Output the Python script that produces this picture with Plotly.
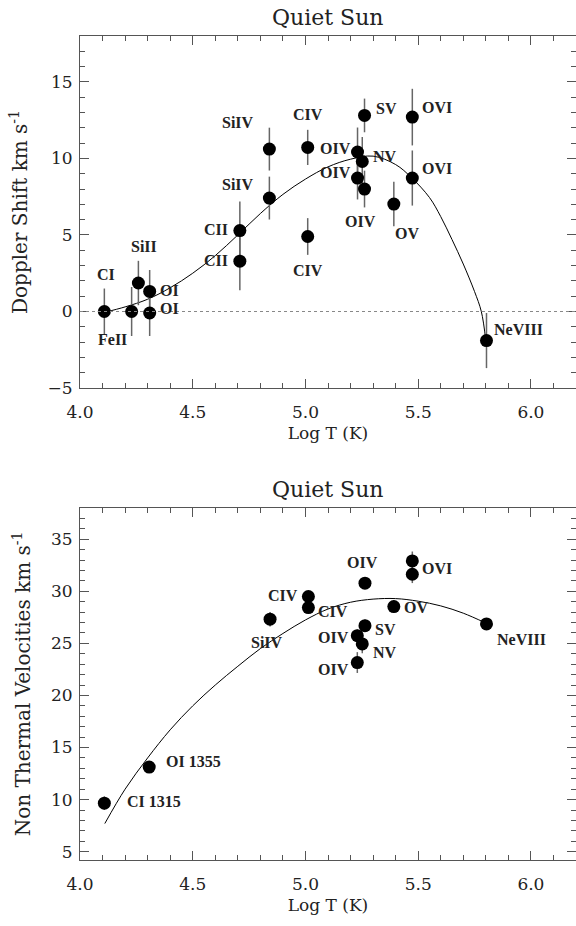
import plotly.graph_objects as go

# ---------------- Top panel: Doppler shift ----------------
dop_ions = ["CI", "FeII", "SiII", "OI", "OI", "CII", "CII", "SiIV", "SiIV", "CIV", "CIV",
            "OIV", "OIV", "NV", "OIV", "SV", "OV", "OVI", "OVI", "NeVIII"]
dop_logt = [4.108, 4.229, 4.259, 4.309, 4.309, 4.709, 4.709, 4.840, 4.840, 5.010, 5.010,
            5.231, 5.231, 5.252, 5.262, 5.262, 5.392, 5.474, 5.474, 5.803]
dop_vel = [0.0, 0.0, 1.86, 1.31, -0.10, 5.29, 3.29, 10.61, 7.41, 10.72, 4.90,
           10.42, 8.72, 9.80, 8.00, 12.81, 7.02, 12.70, 8.72, -1.90]
dop_err = [1.5, 1.6, 1.45, 1.4, 1.5, 1.9, 1.9, 1.4, 1.4, 1.15, 1.2,
           1.6, 1.4, 1.6, 1.2, 1.1, 1.45, 1.85, 1.8, 1.8]

dop_fit_x = [4.11, 4.20, 4.30, 4.40, 4.50, 4.60, 4.70, 4.80, 4.90, 5.00, 5.10, 5.20,
             5.30, 5.40, 5.47, 5.55, 5.60, 5.65, 5.70, 5.75, 5.78, 5.80]
dop_fit_y = [-0.05, 0.3, 0.8, 1.55, 2.5, 3.65, 5.0, 6.4, 7.65, 8.65, 9.45, 9.95,
             10.15, 9.6, 8.75, 7.45, 6.2, 4.7, 3.1, 1.3, 0.0, -1.9]

dop_lab_text = ["CI", "SiII", "OI", "OI", "FeII", "CII", "CII", "SiIV", "SiIV", "CIV", "CIV",
                "OIV", "OIV", "NV", "OIV", "SV", "OV", "OVI", "OVI", "NeVIII"]
dop_lab_x = [4.115, 4.284, 4.399, 4.399, 4.142, 4.602, 4.602, 4.702, 4.702, 5.012, 5.012,
             5.134, 5.134, 5.353, 5.245, 5.360, 5.449, 5.584, 5.584, 5.944]
dop_lab_y = [2.40, 4.25, 1.37, 0.18, -1.85, 5.34, 3.33, 12.35, 8.33, 12.86, 2.68,
             10.68, 9.08, 10.13, 5.88, 13.29, 5.08, 13.36, 9.37, -1.20]

# ---------------- Bottom panel: non-thermal velocities ----------------
nt_ions = ["CI", "OI", "SiIV", "CIV", "CIV", "OIV", "OIV", "NV", "SV", "OIV",
           "OV", "OVI", "OVI", "NeVIII"]
nt_logt = [4.108, 4.307, 4.843, 5.013, 5.013, 5.230, 5.230, 5.252, 5.264, 5.264,
           5.392, 5.474, 5.474, 5.803]
nt_vel = [9.66, 13.12, 27.32, 29.50, 28.44, 25.74, 23.16, 24.95, 26.70, 30.78,
          28.53, 32.92, 31.64, 26.87]
nt_err = [0.65, 0.5, 0.7, 0.5, 0.5, 0.6, 1.0, 0.9, 0.6, 0.5,
          0.6, 0.9, 0.85, 0.5]

nt_fit_x = [4.11, 4.20, 4.30, 4.40, 4.50, 4.60, 4.70, 4.80, 4.90, 5.00, 5.10, 5.20,
            5.30, 5.40, 5.50, 5.60, 5.70, 5.80]
nt_fit_y = [7.7, 11.0, 14.0, 16.7, 19.0, 21.0, 22.8, 24.5, 25.95, 27.25, 28.3, 28.95,
            29.25, 29.3, 29.05, 28.6, 27.9, 26.95]

nt_lab_text = ["CIV", "CIV", "SiIV", "OIV", "OVI", "OV", "SV", "OIV", "NV", "OIV", "NeVIII"]
nt_lab_x = [4.902, 5.123, 4.828, 5.254, 5.584, 5.490, 5.357, 5.123, 5.353, 5.123, 5.959]
nt_lab_y = [29.56, 28.05, 25.08, 32.75, 32.22, 28.47, 26.30, 25.60, 24.12, 22.48, 25.34]

nt_lab2_text = ["OI 1355", "CI 1315"]
nt_lab2_x = [4.372, 4.200]
nt_lab2_y = [13.66, 9.82]

x_ticks = [4.0, 4.5, 5.0, 5.5, 6.0]
x_ticklabels = ["4.0", "4.5", "5.0", "5.5", "6.0"]

AXFONT = "DejaVu Serif"
LABFONT = "Liberation Serif"
INK = "#222222"
AXC = "#555555"

fig = go.Figure()

fig.add_trace(go.Scatter(x=dop_fit_x, y=dop_fit_y, mode="lines",
                         line=dict(color="black", width=1, shape="spline"),
                         xaxis="x", yaxis="y", showlegend=False, hoverinfo="skip"))
fig.add_trace(go.Scatter(x=dop_logt, y=dop_vel, mode="markers",
                         marker=dict(color="black", size=13),
                         error_y=dict(type="data", array=dop_err, width=0, thickness=1.5, color="#666666"),
                         xaxis="x", yaxis="y", showlegend=False, text=dop_ions))

fig.add_trace(go.Scatter(x=nt_fit_x, y=nt_fit_y, mode="lines",
                         line=dict(color="black", width=1, shape="spline"),
                         xaxis="x2", yaxis="y2", showlegend=False, hoverinfo="skip"))
fig.add_trace(go.Scatter(x=nt_logt, y=nt_vel, mode="markers",
                         marker=dict(color="black", size=13),
                         error_y=dict(type="data", array=nt_err, width=0, thickness=1.5, color="#666666"),
                         xaxis="x2", yaxis="y2", showlegend=False, text=nt_ions))

# dotted zero line
fig.add_shape(type="line", xref="x domain", x0=0, x1=1, yref="y", y0=0, y1=0,
              line=dict(color="#888888", width=1.2, dash="dot"))

anns = []
lab_kw = dict(family=LABFONT, size=16, color=INK)
for t, x, y in zip(dop_lab_text, dop_lab_x, dop_lab_y):
    anns.append(dict(x=x, y=y, xref="x", yref="y", text="<b>%s</b>" % t, showarrow=False,
                     font=lab_kw, xanchor="center", yanchor="middle"))
for t, x, y in zip(nt_lab_text, nt_lab_x, nt_lab_y):
    anns.append(dict(x=x, y=y, xref="x2", yref="y2", text="<b>%s</b>" % t, showarrow=False,
                     font=lab_kw, xanchor="center", yanchor="middle"))
for t, x, y in zip(nt_lab2_text, nt_lab2_x, nt_lab2_y):
    anns.append(dict(x=x, y=y, xref="x2", yref="y2", text="<b>%s</b>" % t, showarrow=False,
                     font=lab_kw, xanchor="left", yanchor="middle"))

title_font = dict(family=AXFONT, size=22, color=INK)
lab_font = dict(family=AXFONT, size=17, color=INK)
ytitle_font = dict(family=AXFONT, size=20, color=INK)

anns.append(dict(text="Quiet Sun", x=0.5, y=1.0, xref="paper", yref="paper", yanchor="bottom", yshift=4,
                 showarrow=False, font=title_font))
anns.append(dict(text="Quiet Sun", x=0.5, y=0.4272, xref="paper", yref="paper", yanchor="bottom", yshift=4,
                 showarrow=False, font=title_font))

common_x = dict(range=[4.0, 6.2], tickvals=x_ticks, ticktext=x_ticklabels, ticks="inside", ticklen=9,
                tickcolor=AXC, tickwidth=1, showline=True, linecolor=AXC, linewidth=1, mirror="ticks",
                showgrid=False, zeroline=False, tickfont=lab_font, automargin=False,
                ticklabelstandoff=9,
                minor=dict(dtick=0.1, tick0=4.0, ticks="inside", ticklen=5, tickcolor=AXC, showgrid=False),
                title=dict(text="Log T (K)", font=lab_font, standoff=5))
common_y = dict(ticks="inside", ticklen=9, tickcolor=AXC, tickwidth=1, showline=True, linecolor=AXC,
                linewidth=1, mirror="ticks", showgrid=False, zeroline=False, tickfont=lab_font,
                ticklabelstandoff=3, automargin=False)

fig.update_layout(
    width=576, height=926,
    margin=dict(l=80, r=0, t=36, b=66),
    paper_bgcolor="white", plot_bgcolor="white",
    annotations=anns,
    xaxis=dict(anchor="y", domain=[0, 1], **common_x),
    yaxis=dict(anchor="x", domain=[0.5728, 1.0], range=[-5, 18], tickvals=[-5, 0, 5, 10, 15],
               ticktext=["\u22125", "0", "5", "10", "15"],
               minor=dict(dtick=1, tick0=0, ticks="inside", ticklen=5, tickcolor=AXC, showgrid=False),
               title=dict(text="Doppler Shift km s<sup>-1</sup>", font=ytitle_font, standoff=14), **common_y),
    xaxis2=dict(anchor="y2", domain=[0, 1], **common_x),
    yaxis2=dict(anchor="x2", domain=[0.0, 0.4272], range=[4.2, 38], tickvals=[5, 10, 15, 20, 25, 30, 35],
                minor=dict(dtick=1, tick0=0, ticks="inside", ticklen=5, tickcolor=AXC, showgrid=False),
                title=dict(text="Non Thermal Velocities km s<sup>-1</sup>", font=ytitle_font, standoff=14),
                **common_y),
)

fig.write_html("out.html", config={"displayModeBar": False},
               post_script="document.body.style.margin='0px';document.body.style.padding='0px';")
